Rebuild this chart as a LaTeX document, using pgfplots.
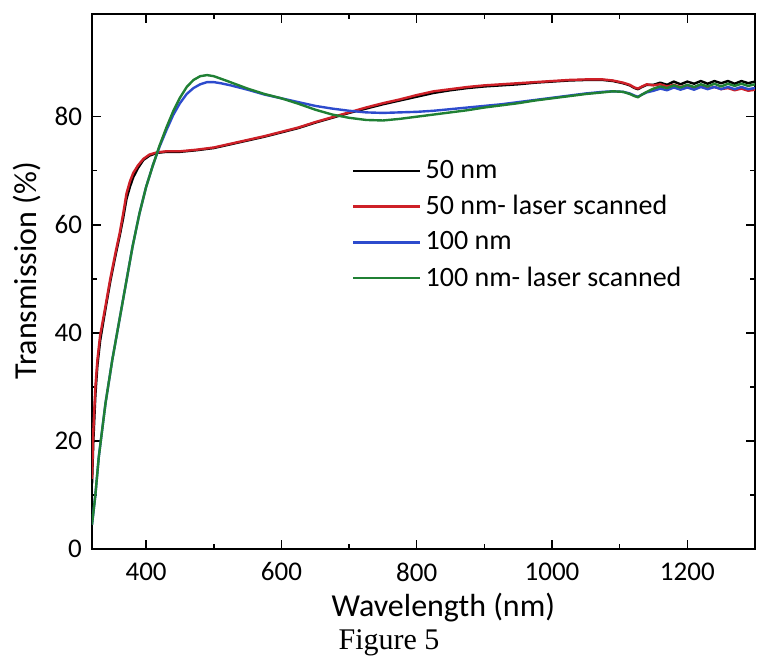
\documentclass[border=0pt]{standalone}
\usepackage{fontspec}
\setmainfont{Carlito}
\newfontfamily\timesfont{Liberation Serif}
\usepackage{pgfplots}
\pgfplotsset{compat=1.18}
\definecolor{cred}{RGB}{206,32,40}
\definecolor{cblue}{RGB}{45,75,205}
\definecolor{cgreen}{RGB}{32,128,52}

\begin{document}
\begin{tikzpicture}
  \useasboundingbox (-46pt,-56pt) rectangle (332.5pt,274.5pt);
  \begin{axis}[
      width=331.5pt, height=267.5pt,
      scale only axis,
      xmin=320, xmax=1300,
      ymin=0, ymax=99,
      xtick={400,600,...,1200},
      ytick={0,20,...,80},
      minor x tick num=1,
      minor y tick num=1,
      tick align=inside,
      major tick length=4.5pt,
      minor tick length=2.5pt,
      every tick/.style={line width=0.75pt, black},
      axis line style={line width=1pt},
      /pgf/number format/1000 sep={},
      /pgf/number format/assume math mode=true,
      ticklabel style={font=\fontsize{13.5}{15}\selectfont},
      xticklabel style={yshift=-3.3pt},
      yticklabel style={xshift=-1.5pt},
      xlabel={Wavelength (nm)},
      ylabel={Transmission (\%)},
      label style={font=\fontsize{16}{19}\selectfont},
      xlabel style={at={(axis description cs:0.53,-0.127)}, anchor=base},
      ylabel style={at={(axis description cs:-0.098,0.52)}, anchor=center},
      legend cell align=left,
      legend style={draw=none, fill=none, at={(axis description cs:0.392,0.735)},
        anchor=north west, font=\fontsize{14}{16}\selectfont,
        row sep=3pt, inner sep=0pt},
      legend image code/.code={\draw[#1] (0pt,0pt) -- (33.5pt,0pt);},
      every axis plot/.append style={line width=1.2pt, line join=round},
    ]
    % 50 nm
    \addplot[black] coordinates {
      (320,12) (322,20) (325,28.5) (328,34) (332,38.5) (340,44.5) (347,49.5)
      (355,54.5) (361,58) (366,61.2) (371,64.8) (376,67) (381,68.8) (388,70.5)
      (396,72) (405,72.8) (416,73.3) (430,73.5) (450,73.5) (475,73.8) (500,74.2)
      (525,74.9) (550,75.6) (575,76.3) (600,77.1) (625,77.9) (650,78.9) (675,79.8)
      (700,80.7) (725,81.5) (750,82.3) (775,83) (800,83.7) (825,84.4) (850,84.9)
      (875,85.3) (900,85.6) (925,85.8) (950,86) (975,86.3) (1000,86.5) (1025,86.7)
      (1050,86.8) (1075,86.8) (1090,86.6) (1105,86.2) (1115,85.8) (1122,85.3)
      (1127,85.1) (1133,85.5) (1140,85.9) (1150,85.9) (1160,86.3) (1170,85.9)
      (1180,86.5) (1190,86.0) (1200,86.5) (1210,86.1) (1220,86.6) (1230,86.1)
      (1240,86.6) (1250,86.2) (1260,86.6) (1270,86.1) (1280,86.6) (1290,86.2)
      (1300,86.5)
    };
    \addlegendentry{50 nm}
    % 50 nm - laser scanned
    \addplot[cred] coordinates {
      (320,13) (322,22) (325,30) (328,35) (332,39.5) (340,45) (347,50) (355,55)
      (361,58.5) (366,62) (371,65.8) (376,68) (381,69.6) (388,71) (396,72.2)
      (405,73) (416,73.4) (430,73.6) (450,73.6) (475,73.9) (500,74.3) (525,75)
      (550,75.7) (575,76.4) (600,77.2) (625,78) (650,79) (675,79.9) (700,80.8)
      (725,81.7) (750,82.5) (775,83.2) (800,84) (825,84.7) (850,85.1) (875,85.5)
      (900,85.8) (925,86) (950,86.2) (975,86.4) (1000,86.6) (1025,86.8) (1050,86.9)
      (1075,86.9) (1090,86.7) (1105,86.3) (1115,85.9) (1122,85.4) (1127,85.2)
      (1133,85.6) (1140,86) (1150,85.8) (1160,86.0) (1170,85.6) (1180,85.9)
      (1190,85.5) (1200,85.8) (1210,85.4) (1220,85.6) (1230,85.2) (1240,85.5)
      (1250,85.1) (1260,85.3) (1270,84.9) (1280,85.2) (1290,84.8) (1300,85.0)
    };
    \addlegendentry{50 nm- laser scanned}
    % 100 nm
    \addplot[cblue] coordinates {
      (320,4.5) (325,10) (330,17) (340,27) (350,35) (360,42) (370,49) (380,56)
      (390,62) (400,67) (410,71) (420,74.5) (430,77.5) (440,80.3) (450,82.5)
      (460,84.2) (470,85.3) (480,86) (490,86.4) (500,86.4) (510,86.2) (525,85.8)
      (550,85.0) (575,84.1) (600,83.4) (625,82.7) (650,82.0) (675,81.5) (700,81.1)
      (725,80.8) (750,80.7) (775,80.8) (800,80.9) (825,81.1) (850,81.4) (875,81.7)
      (900,82) (925,82.3) (950,82.7) (975,83.1) (1000,83.5) (1025,83.9) (1050,84.3)
      (1075,84.6) (1090,84.7) (1105,84.6) (1115,84.3) (1122,83.9) (1127,83.7)
      (1133,84.1) (1140,84.5) (1150,84.8) (1160,85.2) (1170,84.9) (1180,85.4)
      (1190,85.0) (1200,85.4) (1210,85.0) (1220,85.5) (1230,85.1) (1240,85.5)
      (1250,85.1) (1260,85.5) (1270,85.1) (1280,85.5) (1290,85.1) (1300,85.3)
    };
    \addlegendentry{100 nm}
    % 100 nm - laser scanned
    \addplot[cgreen] coordinates {
      (320,4.5) (325,10) (330,17) (340,27) (350,35) (360,42) (370,49) (380,56)
      (390,62) (400,67) (410,71) (420,74.7) (430,78) (440,81) (450,83.5)
      (460,85.5) (470,86.8) (480,87.5) (490,87.7) (500,87.5) (520,86.6)
      (550,85.2) (575,84.2) (600,83.4) (625,82.4) (650,81.3) (675,80.4) (700,79.8)
      (725,79.4) (750,79.3) (775,79.6) (800,80) (825,80.4) (850,80.8) (875,81.2)
      (900,81.7) (925,82.1) (950,82.5) (975,83) (1000,83.4) (1025,83.8) (1050,84.2)
      (1075,84.5) (1090,84.7) (1105,84.6) (1115,84.2) (1122,83.8) (1127,83.6)
      (1133,84.1) (1140,84.6) (1150,85.2) (1160,85.6) (1170,85.3) (1180,85.8)
      (1190,85.4) (1200,85.9) (1210,85.5) (1220,86.0) (1230,85.6) (1240,86.1)
      (1250,85.6) (1260,86.1) (1270,85.7) (1280,86.1) (1290,85.7) (1300,86.0)
    };
    \addlegendentry{100 nm- laser scanned}
  \end{axis}
  \node[font=\timesfont\fontsize{15}{18}\selectfont, anchor=base]
    at ([xshift=148.5pt, yshift=-50pt]current axis.south west) {Figure 5};
\end{tikzpicture}
\end{document}
